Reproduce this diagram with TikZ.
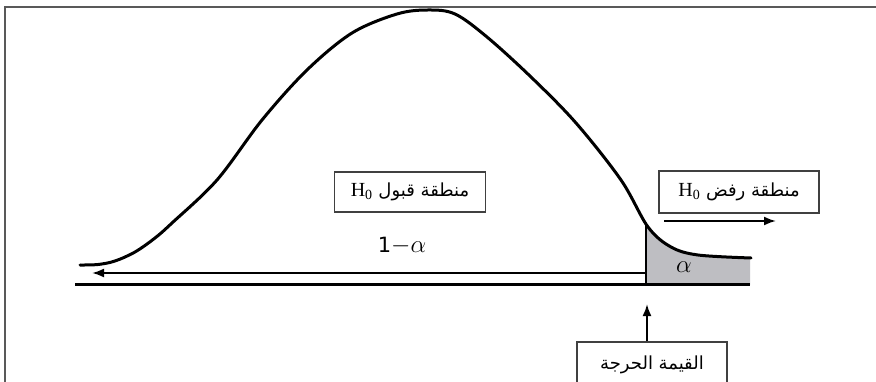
\documentclass[tikz,border=0pt]{standalone}
\usepackage{fontspec}
\setmainfont{Liberation Serif}
\setsansfont{DejaVu Sans}
\newfontfamily\arabicfont[Script=Arabic]{DejaVu Sans}
\TeXXeTstate=1
\usetikzlibrary{arrows.meta}
\definecolor{tailgray}{RGB}{190,190,194}
\begin{document}
\begin{tikzpicture}[x=1pt,y=-1pt,
  frameline/.style={draw=black!65, line width=1.5pt},
  curveline/.style={line width=3pt, line cap=round},
  axisline/.style={line width=3pt},
  arrowline/.style={line width=2pt, -{Latex[length=12pt,width=9pt]}},
  labelbox/.style={draw=black!75, line width=1.3pt, fill=white, inner sep=0pt,
    font=\fontsize{18}{20}\selectfont},
  hzero/.style={font=\rmfamily\fontsize{20}{22}\selectfont},
]
\clip (0,0) rectangle (876,382);
\fill[white] (0,0) rectangle (876,382);
% frame
\draw[frameline] (5,384) -- (5,7) -- (878,7);
% shaded tail
\begin{scope}
  \clip (646,0) rectangle (750,285);
  \fill[tailgray] plot[smooth, tension=0.55] coordinates {
    (80,265) (98,264.5) (115,261) (135,252) (155,238) (172,223) (217,180)
    (262,120) (307,70) (352,33) (397,14) (428,10) (455,14) (487,37)
    (531,77) (576,123) (621,180) (648,227) (671,247) (698,255) (751,258)}
    -- (751,285) -- (80,285) -- cycle;
\end{scope}
% curve
\draw[curveline] plot[smooth, tension=0.55] coordinates {
    (80,265) (98,264.5) (115,261) (135,252) (155,238) (172,223) (217,180)
    (262,120) (307,70) (352,33) (397,14) (428,10) (455,14) (487,37)
    (531,77) (576,123) (621,180) (648,227) (671,247) (698,255) (751,258)};
% coordinates
\coordinate (baseL) at (75,285);
\coordinate (baseR) at (750,285);
\coordinate (critCurve) at (646,224);
\coordinate (critBase) at (646,285);
\coordinate (accStart) at (646,273);
\coordinate (accEnd) at (92,273);
\coordinate (rejStart) at (664,221);
\coordinate (rejEnd) at (776,221);
\coordinate (critTip) at (647,304);
% axis and lines
\draw[axisline] (baseL) -- (baseR);
\draw[line width=2.5pt] (critCurve) -- (critBase);
\draw[arrowline] (accStart) -- (accEnd);
\draw[arrowline] (rejStart) -- (rejEnd);
% labels
\node (oneminus) at (402,246) {{\fontsize{21}{24}\selectfont\sffamily 1}{\fontsize{27}{30}\selectfont$-\alpha$}};
\node (alpha) at (684,267) {\fontsize{28}{30}\selectfont$\alpha$};
\node[labelbox, minimum width=151pt, minimum height=40pt] (acc) at (410,192)
  {\arabicfont\beginR منطقة قبول {\rmfamily\fontsize{20}{22}\selectfont\beginL H\textsubscript{0}\endL}\endR};
\node[labelbox, minimum width=160pt, minimum height=42pt] (rej) at (739,192)
  {\arabicfont\beginR منطقة رفض {\rmfamily\fontsize{20}{22}\selectfont\beginL H\textsubscript{0}\endL}\endR};
\node[labelbox, minimum width=150pt, minimum height=46pt] (crit) at (652,365)
  {\raisebox{3pt}{\arabicfont\beginR القيمة الحرجة\endR}};
\draw[arrowline] (critTip |- crit.north) -- (critTip);
\end{tikzpicture}
\end{document}
